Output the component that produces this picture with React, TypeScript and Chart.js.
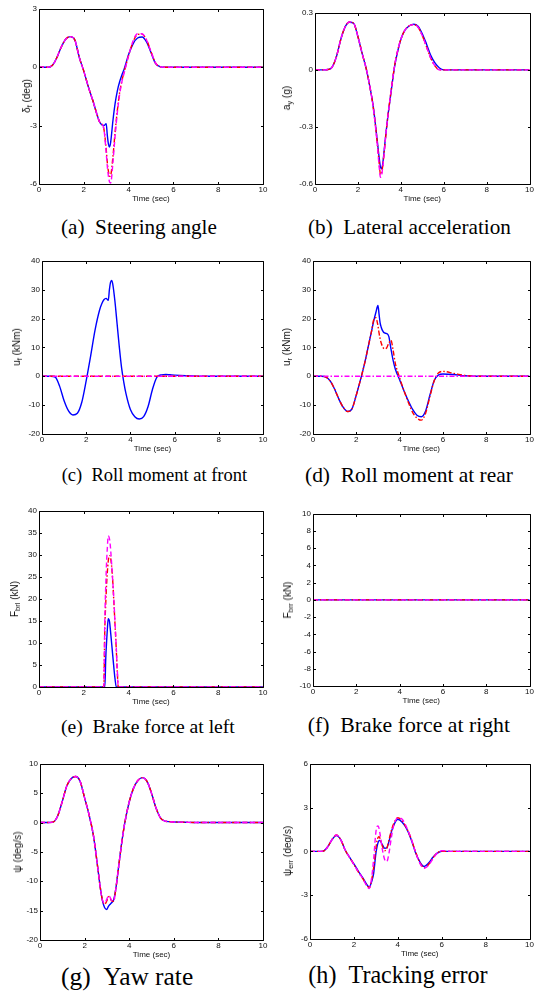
import React, { useEffect, useRef } from 'react';
import { Chart, registerables } from 'chart.js';

Chart.register(...registerables);

// ---------- shared axes data ----------
const xTicks = [0, 2, 4, 6, 8, 10];
const timeSec = [0, 0.4, 0.6, 0.8, 1.0, 1.2, 1.4, 1.6, 1.8, 2.0, 2.2, 2.4, 2.6, 2.7, 2.8, 2.9, 3.0, 3.05, 3.1, 3.15, 3.2, 3.3, 3.4, 3.5, 3.6, 3.7, 3.8, 4.0, 4.2, 4.4, 4.6, 4.8, 5.0, 5.2, 5.4, 5.6, 5.8, 6.0, 6.5, 7.0, 8.0, 10.0];
const timeEnds = [0, 10];
const zeroLine = [0, 0];

// (a) steering angle (deg)
const yTicksSteer = [-6, -3, 0, 3];
const steerBlue = [0, 0, 0.1, 0.5, 1.05, 1.45, 1.57, 1.4, 0.5, -0.2, -1.0, -1.7, -2.47, -2.8, -2.95, -3.0, -2.9, -3.5, -3.95, -4.1, -3.85, -2.75, -1.85, -1.2, -0.75, -0.4, -0.1, 0.65, 1.2, 1.5, 1.55, 1.3, 0.75, 0.2, 0.03, 0, 0, 0, 0, 0, 0, 0];
const steerRed = [0, 0, 0.1, 0.5, 1.05, 1.45, 1.57, 1.4, 0.5, -0.2, -1.0, -1.7, -2.47, -2.8, -2.9, -3.2, -4.2, -4.9, -5.35, -5.6, -5.55, -4.6, -3.3, -2.2, -1.3, -0.7, -0.25, 0.6, 1.3, 1.68, 1.7, 1.4, 0.8, 0.22, 0.03, 0, 0, 0, 0, 0, 0, 0];
const steerMagenta = [0, 0, 0.1, 0.5, 1.05, 1.45, 1.57, 1.4, 0.5, -0.2, -1.0, -1.7, -2.47, -2.8, -2.9, -3.2, -4.4, -5.1, -5.6, -5.9, -5.95, -4.9, -3.5, -2.3, -1.4, -0.75, -0.3, 0.6, 1.35, 1.72, 1.72, 1.4, 0.8, 0.22, 0.03, 0, 0, 0, 0, 0, 0, 0];

// (b) lateral acceleration (g)
const yTicksLat = [-0.6, -0.3, 0, 0.3];
const latBlue = [0, 0, 0.002, 0.015, 0.07, 0.16, 0.225, 0.25, 0.245, 0.175, 0.085, 0.0, -0.115, -0.18, -0.27, -0.37, -0.47, -0.51, -0.52, -0.5, -0.45, -0.34, -0.24, -0.155, -0.07, 0.01, 0.07, 0.16, 0.21, 0.232, 0.24, 0.23, 0.19, 0.135, 0.075, 0.035, 0.01, 0, 0, 0, 0, 0];
const latRed = [0, 0, 0.002, 0.015, 0.07, 0.16, 0.225, 0.252, 0.245, 0.175, 0.085, 0.0, -0.115, -0.185, -0.275, -0.38, -0.5, -0.55, -0.545, -0.51, -0.46, -0.345, -0.24, -0.15, -0.065, 0.015, 0.075, 0.16, 0.21, 0.232, 0.238, 0.225, 0.18, 0.12, 0.06, 0.02, 0.0, 0, 0, 0, 0, 0];
const latMagenta = [0, 0, 0.002, 0.015, 0.07, 0.16, 0.225, 0.252, 0.245, 0.175, 0.085, 0.0, -0.115, -0.185, -0.28, -0.39, -0.52, -0.565, -0.555, -0.52, -0.465, -0.345, -0.24, -0.15, -0.065, 0.015, 0.075, 0.16, 0.21, 0.232, 0.238, 0.225, 0.18, 0.12, 0.06, 0.02, 0.0, 0, 0, 0, 0, 0];

// (c) roll moment at front (kNm)
const yTicksRoll = [-20, -10, 0, 10, 20, 30, 40];
const frontBlue = [0, 0, -0.3, -3.5, -8.5, -12, -13.4, -12.8, -9, -1.5, 7, 16, 22.8, 25, 26.5, 27, 26.3, 30, 32.5, 33.2, 32, 26, 18, 10, 3, -2, -6, -11.5, -14, -14.8, -14, -10.5, -4.5, -0.3, 0.5, 0.6, 0.5, 0.4, 0.2, 0.05, 0, 0];

// (d) roll moment at rear (kNm)
const rearBlue = [0, 0, -0.3, -1.7, -4.5, -8, -10.8, -12.2, -11.3, -6.5, -1, 5, 12, 15.5, 19, 22, 24.5, 21.5, 18.5, 17, 16, 15, 14.8, 13.8, 9.5, 5.5, 2.5, -1.2, -5, -8.5, -11.5, -13.5, -14, -12, -6.5, -1.5, 0.5, 0.8, 0.6, 0.2, 0, 0];
const rearRed = [0, 0, -0.3, -1.7, -4.5, -8, -10.8, -12.2, -11.3, -6.5, -1, 5, 12, 15.5, 19.5, 20.3, 17.5, 15, 13, 11.5, 10.5, 9.5, 9.8, 11.5, 12.5, 9, 4.5, -0.5, -5, -9, -12.5, -14.5, -15.2, -12.8, -7, -1.5, 1.2, 1.7, 1.0, 0.3, 0, 0];

// (e) brake force at left (kN)
const yTicksBrl = [0, 5, 10, 15, 20, 25, 30, 35, 40];
const timeBrake = [0, 2.89, 2.94, 2.98, 3.02, 3.05, 3.09, 3.15, 3.19, 3.28, 3.34, 3.39, 3.45, 3.49, 3.54, 10];
const brakeBlue = [0, 0, 0, 6.5, 10.5, 13, 15.5, 14.8, 12.8, 7.8, 4.5, 2, 0, 0, 0, 0];
const brakeRed = [0, 0, 13.5, 19, 23.5, 26, 28.5, 29.8, 29.5, 25, 19.5, 14.5, 8.5, 4, 0, 0];
const brakeMagenta = [0, 0, 15.8, 23, 28.7, 31.5, 34.3, 33.5, 31.7, 25, 20, 15, 9, 4.5, 0, 0];

// (f) brake force at right (kN)
const yTicksBrr = [-10, -8, -6, -4, -2, 0, 2, 4, 6, 8, 10];

// (g) yaw rate (deg/s)
const yTicksYaw = [-20, -15, -10, -5, 0, 5, 10];
const yawBlue = [0, 0, 0.1, 1.2, 3.6, 6.2, 7.5, 7.85, 7, 4.2, 1.3, -2.3, -8, -11, -13.3, -14.5, -14.8, -14.4, -14.1, -13.9, -13.7, -13.2, -11.3, -8.3, -5.3, -2.5, -0.1, 3.5, 5.9, 7.2, 7.65, 7, 5, 2.5, 0.8, 0.25, 0.15, 0.1, 0.05, 0, 0, 0];
const yawRed = [0, 0, 0.1, 1.2, 3.6, 6.2, 7.5, 7.85, 7, 4.2, 1.3, -2.3, -8, -11, -13.2, -13.9, -13.3, -12.8, -12.6, -12.9, -13.3, -13.4, -11.3, -8.3, -5.3, -2.5, -0.1, 3.5, 5.9, 7.2, 7.65, 7, 5, 2.5, 0.8, 0.25, 0.15, 0.1, 0.05, 0, 0, 0];
const yawMagenta = [0, 0, 0.1, 1.2, 3.6, 6.2, 7.5, 7.85, 7, 4.2, 1.3, -2.3, -8, -11, -13.2, -13.7, -13.0, -12.6, -12.4, -12.8, -13.2, -13.4, -11.3, -8.3, -5.3, -2.5, -0.1, 3.5, 5.9, 7.2, 7.65, 7, 5, 2.5, 0.8, 0.25, 0.15, 0.1, 0.05, 0, 0, 0];

// (h) tracking error (deg/s)
const yTicksErr = [-6, -3, 0, 3, 6];
const errBlue = [0, 0, 0.02, 0.3, 0.8, 1.08, 0.8, 0.1, -0.4, -0.85, -1.35, -1.8, -2.3, -2.45, -2.1, -1.5, -0.15, 0.3, 0.6, 0.75, 0.72, 0.45, 0.22, 0.25, 0.7, 1.3, 1.75, 2.2, 2.0, 1.55, 0.85, -0.05, -0.7, -1.03, -0.8, -0.4, -0.12, 0, 0, 0, 0, 0];
const errRed = [0, 0, 0.02, 0.3, 0.8, 1.12, 0.8, 0.1, -0.4, -0.9, -1.4, -1.85, -2.35, -2.5, -2.0, -1.1, 0.2, 0.7, 0.95, 1.0, 0.85, 0.35, 0.05, 0.2, 0.8, 1.4, 1.85, 2.3, 2.1, 1.6, 0.9, 0.0, -0.75, -1.12, -0.9, -0.45, -0.1, 0, 0, 0, 0, 0];
const errMagenta = [0, 0, 0.02, 0.3, 0.8, 1.12, 0.8, 0.1, -0.4, -0.9, -1.4, -1.85, -2.4, -2.55, -1.9, -0.5, 1.3, 1.7, 1.75, 1.55, 1.1, 0.1, -0.55, -0.7, -0.1, 0.9, 1.7, 2.3, 2.2, 1.65, 0.9, 0.0, -0.8, -1.15, -0.95, -0.5, -0.1, 0.05, 0, 0, 0, 0];

// ---------- styling ----------
const BLUE = '#0000ff';
const RED = '#ff0000';
const MAGENTA = '#ff00ff';
const DASH_RED = [5, 2, 1.5, 2];
const DASH_MAG = [5, 3];
const SANS = '"Liberation Sans", Arial, Helvetica, sans-serif';
const SERIF = '"Liberation Serif", "Times New Roman", Times, serif';

type Series = { x: number[]; y: number[]; color: string; dash: number[] };

const framePlugin = {
  id: 'matlabFrame',
  afterDatasetsDraw(chart: any) {
    const { ctx, chartArea: a, scales } = chart;
    const x = scales.x;
    const y = scales.y;
    const l = Math.round(a.left) + 0.5;
    const r = Math.round(a.right) + 0.5;
    const t = Math.round(a.top) + 0.5;
    const b = Math.round(a.bottom) + 0.5;
    ctx.save();
    ctx.strokeStyle = '#000';
    ctx.lineWidth = 1;
    ctx.beginPath();
    ctx.rect(l, t, r - l, b - t);
    const tl = 2.5;
    for (const tk of x.ticks) {
      const px = Math.round(x.getPixelForValue(tk.value)) + 0.5;
      ctx.moveTo(px, b);
      ctx.lineTo(px, b - tl);
      ctx.moveTo(px, t);
      ctx.lineTo(px, t + tl);
    }
    for (const tk of y.ticks) {
      const py = Math.round(y.getPixelForValue(tk.value)) + 0.5;
      ctx.moveTo(l, py);
      ctx.lineTo(l + tl, py);
      ctx.moveTo(r, py);
      ctx.lineTo(r - tl, py);
    }
    ctx.stroke();
    ctx.restore();
  },
};

const measureCtx = typeof document !== 'undefined' ? document.createElement('canvas').getContext('2d') : null;
function fitFontSize(text: string, width: number): number {
  if (!measureCtx) return 20;
  measureCtx.font = `100px ${SERIF}`;
  return (width / measureCtx.measureText(text).width) * 100;
}

type PanelProps = {
  L: number; R: number; T: number; B: number;
  yMin: number; yMax: number; yTicks: number[];
  series: Series[];
  yTitle: React.ReactNode; yTitleX: number;
  caption: string; capLeft: number; capRight: number; capBase: number;
};

function Panel(p: PanelProps) {
  const ref = useRef<HTMLCanvasElement | null>(null);
  const padL = 30;
  const padT = 6;
  const padB = 22;
  const padR = Math.min(8, 535 - p.R);
  const W = p.R - p.L + padL + padR;
  const H = p.B - p.T + padT + padB;

  useEffect(() => {
    const canvas = ref.current;
    if (!canvas) return;
    const tickFont = { family: SANS, size: 8 };
    const chart = new Chart(canvas, {
      type: 'line',
      data: {
        datasets: p.series.map((s) => ({
          data: s.x.map((t, i) => ({ x: t, y: s.y[i] })),
          borderColor: s.color,
          borderWidth: 1.4,
          borderDash: s.dash,
          pointRadius: 0,
          fill: false,
          tension: 0,
          cubicInterpolationMode: 'monotone',
        })),
      },
      options: {
        animation: false,
        responsive: false,
        events: [],
        layout: { padding: { left: 0, top: padT, right: padR, bottom: 0 }, autoPadding: false },
        plugins: { legend: { display: false }, tooltip: { enabled: false } },
        scales: {
          x: {
            type: 'linear',
            min: 0,
            max: 10,
            afterBuildTicks: (s: any) => { s.ticks = xTicks.map((v) => ({ value: v })); },
            afterFit: (s: any) => { s.height = padB; },
            grid: { display: false, drawTicks: false },
            border: { display: false },
            ticks: { font: tickFont, color: '#111', padding: 1, maxRotation: 0, autoSkip: false, callback: (v: any) => `${v}` },
            title: { display: true, text: 'Time (sec)', font: tickFont, color: '#111', padding: { top: 0, bottom: 2.5 } },
          },
          y: {
            type: 'linear',
            min: p.yMin,
            max: p.yMax,
            afterBuildTicks: (s: any) => { s.ticks = p.yTicks.map((v) => ({ value: v })); },
            afterFit: (s: any) => { s.width = padL; },
            grid: { display: false, drawTicks: false },
            border: { display: false },
            ticks: { font: tickFont, color: '#111', padding: 2, autoSkip: false, callback: (v: any) => `${v}` },
          },
        },
      } as any,
      plugins: [framePlugin],
    });
    return () => chart.destroy();
  }, []);

  const capSize = fitFontSize(p.caption, p.capRight - p.capLeft);

  return (
    <>
      <canvas
        ref={ref}
        width={W}
        height={H}
        style={{ position: 'absolute', left: p.L - padL, top: p.T - padT, width: W, height: H }}
      />
      <div
        style={{
          position: 'absolute',
          left: p.yTitleX,
          top: (p.T + p.B) / 2,
          transform: 'translate(-50%, -50%) rotate(-90deg)',
          whiteSpace: 'nowrap',
          fontFamily: SANS,
          fontSize: 10,
          lineHeight: '12px',
          color: '#111',
        }}
      >
        {p.yTitle}
      </div>
      <div
        style={{
          position: 'absolute',
          left: p.capLeft,
          top: p.capBase - 0.8375 * capSize,
          fontFamily: SERIF,
          fontSize: capSize,
          lineHeight: `${capSize}px`,
          whiteSpace: 'pre',
          color: '#000',
        }}
      >
        {p.caption}
      </div>
    </>
  );
}

const subStyle: React.CSSProperties = { fontSize: 7.5, verticalAlign: '-2px', lineHeight: 0 };

export default function App() {
  const panels: PanelProps[] = [
    {
      L: 39, R: 263, T: 8, B: 184, yMin: -6, yMax: 3, yTicks: yTicksSteer,
      series: [
        { x: timeSec, y: steerMagenta, color: MAGENTA, dash: DASH_MAG },
        { x: timeSec, y: steerRed, color: RED, dash: DASH_RED },
        { x: timeSec, y: steerBlue, color: BLUE, dash: [] },
      ],
      yTitle: <>δ<sub style={subStyle}>f</sub> (deg)</>, yTitleX: 27,
      caption: '(a)\u2002Steering angle', capLeft: 61, capRight: 217, capBase: 235,
    },
    {
      L: 315, R: 534, T: 12, B: 184, yMin: -0.6, yMax: 0.3, yTicks: yTicksLat,
      series: [
        { x: timeSec, y: latMagenta, color: MAGENTA, dash: DASH_MAG },
        { x: timeSec, y: latRed, color: RED, dash: DASH_RED },
        { x: timeSec, y: latBlue, color: BLUE, dash: [] },
      ],
      yTitle: <>a<sub style={subStyle}>y</sub> (g)</>, yTitleX: 287,
      caption: '(b)\u2002Lateral acceleration', capLeft: 308, capRight: 511, capBase: 235,
    },
    {
      L: 42, R: 263, T: 260, B: 434, yMin: -20, yMax: 40, yTicks: yTicksRoll,
      series: [
        { x: timeEnds, y: zeroLine, color: MAGENTA, dash: DASH_RED },
        { x: timeEnds, y: zeroLine, color: RED, dash: DASH_MAG },
        { x: timeSec, y: frontBlue, color: BLUE, dash: [] },
      ],
      yTitle: <>u<sub style={subStyle}>f</sub> (kNm)</>, yTitleX: 17,
      caption: '(c)\u2002Roll moment at front', capLeft: 61.7, capRight: 247.3, capBase: 482,
    },
    {
      L: 313, R: 533, T: 260, B: 434, yMin: -20, yMax: 40, yTicks: yTicksRoll,
      series: [
        { x: timeEnds, y: zeroLine, color: MAGENTA, dash: DASH_RED },
        { x: timeSec, y: rearRed, color: RED, dash: DASH_RED },
        { x: timeSec, y: rearBlue, color: BLUE, dash: [] },
      ],
      yTitle: <>u<sub style={subStyle}>r</sub> (kNm)</>, yTitleX: 287,
      caption: '(d)\u2002Roll moment at rear', capLeft: 305, capRight: 513, capBase: 483,
    },
    {
      L: 39, R: 263, T: 510, B: 687, yMin: 0, yMax: 40, yTicks: yTicksBrl,
      series: [
        { x: timeBrake, y: brakeMagenta, color: MAGENTA, dash: DASH_MAG },
        { x: timeBrake, y: brakeRed, color: RED, dash: DASH_RED },
        { x: timeBrake, y: brakeBlue, color: BLUE, dash: [] },
      ],
      yTitle: <>F<sub style={subStyle}>brl</sub> (kN)</>, yTitleX: 15,
      caption: '(e)\u2002Brake force at left', capLeft: 61, capRight: 235, capBase: 733,
    },
    {
      L: 313, R: 534, T: 513, B: 686, yMin: -10, yMax: 10, yTicks: yTicksBrr,
      series: [
        { x: timeEnds, y: zeroLine, color: MAGENTA, dash: DASH_MAG },
        { x: timeEnds, y: zeroLine, color: RED, dash: DASH_RED },
        { x: timeEnds, y: zeroLine, color: BLUE, dash: [] },
      ],
      yTitle: <>F<sub style={subStyle}>brr</sub> (kN)</>, yTitleX: 288,
      caption: '(f)\u2002Brake force at right', capLeft: 307.7, capRight: 510, capBase: 733,
    },
    {
      L: 40, R: 263, T: 763, B: 940, yMin: -20, yMax: 10, yTicks: yTicksYaw,
      series: [
        { x: timeSec, y: yawMagenta, color: MAGENTA, dash: DASH_MAG },
        { x: timeSec, y: yawRed, color: RED, dash: DASH_RED },
        { x: timeSec, y: yawBlue, color: BLUE, dash: [] },
      ],
      yTitle: <>ψ (deg/s)</>, yTitleX: 17.5,
      caption: '(g)\u2002Yaw rate', capLeft: 61, capRight: 193.3, capBase: 985,
    },
    {
      L: 310, R: 533, T: 763, B: 939, yMin: -6, yMax: 6, yTicks: yTicksErr,
      series: [
        { x: timeSec, y: errMagenta, color: MAGENTA, dash: DASH_MAG },
        { x: timeSec, y: errRed, color: RED, dash: DASH_RED },
        { x: timeSec, y: errBlue, color: BLUE, dash: [] },
      ],
      yTitle: <>ψ<sub style={subStyle}>err</sub> (deg/s)</>, yTitleX: 287.5,
      caption: '(h)\u2002Tracking error', capLeft: 308.3, capRight: 487.7, capBase: 983,
    },
  ];

  return (
    <div style={{ position: 'fixed', left: 0, top: 0, width: 535, height: 999, overflow: 'hidden', background: '#fff' }}>
      {panels.map((p, i) => (
        <Panel key={i} {...p} />
      ))}
    </div>
  );
}
